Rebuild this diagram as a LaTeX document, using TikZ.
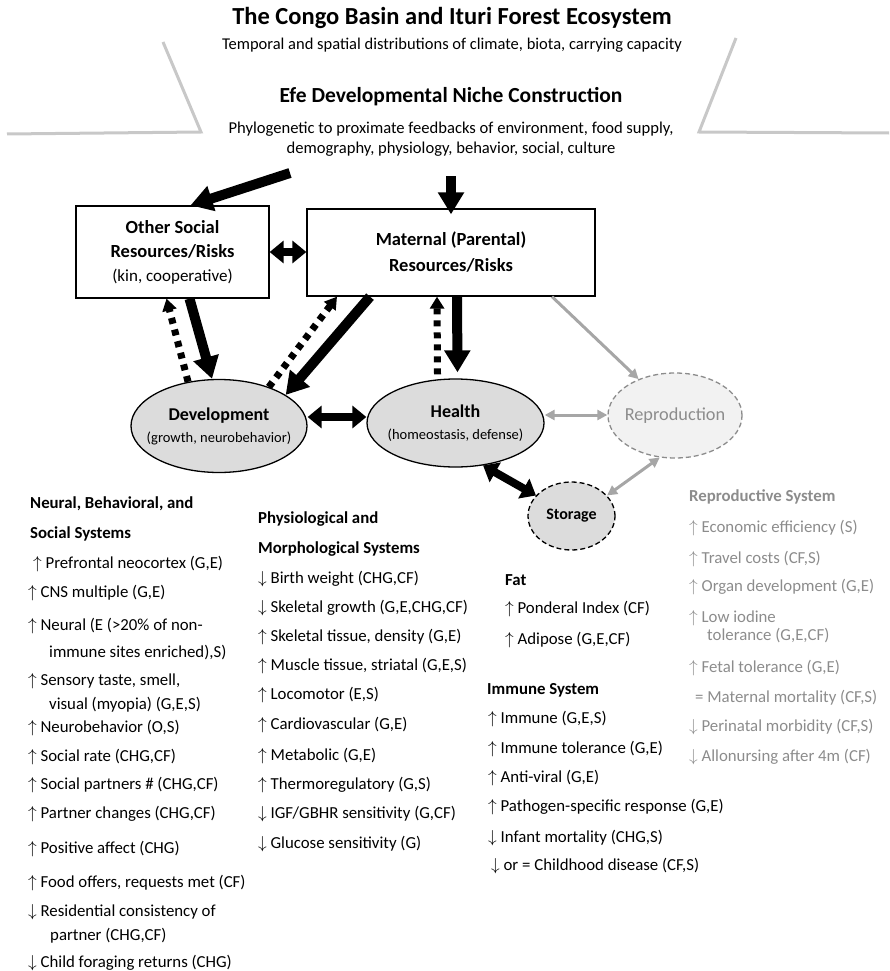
\documentclass[tikz,border=0pt]{standalone}
\usepackage{fontspec}
\setmainfont{Carlito}
\usepackage{xcolor}
\definecolor{efeFrame}{HTML}{C8C8C8}
\definecolor{efeFill}{HTML}{DCDCDC}
\definecolor{efePale}{HTML}{F2F2F2}
\definecolor{efeGray}{HTML}{8C8C8C}
\definecolor{efeArrow}{HTML}{A6A6A6}
\usepackage{tikz}
\usetikzlibrary{arrows.meta,shapes.geometric,positioning}
\newcommand{\incr}{$\uparrow$}
\newcommand{\decr}{$\downarrow$}
\tikzset{
  resbox/.style={
    rectangle,draw=black,line width=1.3pt,fill=white,
    align=center,inner sep=0pt,
    font=\fontsize{18.5}{24}\selectfont\bfseries
  },
  sysell/.style={
    ellipse,draw=black,line width=1.3pt,fill=efeFill,
    align=center,inner xsep=-15pt,inner ysep=0pt,
    font=\fontsize{14.5}{22}\selectfont
  },
  listtext/.style={anchor=base west,inner sep=0pt,font=\fontsize{16.8}{20}\selectfont},
  listhead/.style={listtext,font=\fontsize{16.8}{20}\selectfont\bfseries},
  bigarr/.style={-{Triangle[length=22pt,width=25pt]},line width=10pt},
  dotarr/.style={-{Triangle[length=12pt,width=14pt]},line width=7pt,dash pattern=on 6pt off 6pt},
  duoarr/.style={{Triangle[length=14pt,width=22pt]}-{Triangle[length=14pt,width=22pt]},line width=8pt},
  grayarr/.style={-{Triangle[length=10pt,width=10pt]},line width=3pt,color=efeArrow},
  grayduo/.style={{Triangle[length=10pt,width=10pt]}-{Triangle[length=10pt,width=10pt]},line width=3pt,color=efeArrow},
  frameline/.style={line width=3pt,color=efeFrame}
}

\begin{document}
\begin{tikzpicture}[x=1pt,y=-1pt]
\useasboundingbox (0,0) rectangle (889,971);

% ecosystem frame
\draw[frameline] (7,134) -- (201,132) -- (163,42);
\draw[frameline] (736,38) -- (699,132) -- (889,133);

\node[font=\fontsize{24.5}{28}\selectfont\bfseries] (basin) at (452,18) {The Congo Basin and Ituri Forest Ecosystem};
\node[font=\fontsize{16.5}{19}\selectfont] (basinsub) at (452,45) {Temporal and spatial distributions of climate, biota, carrying capacity};
\node[font=\fontsize{21.5}{24}\selectfont\bfseries] (niche) at (451,97) {Efe Developmental Niche Construction};
\node[font=\fontsize{16.6}{19.5}\selectfont,align=center] (nichesub) at (451,139) {Phylogenetic to proximate feedbacks of environment, food supply,\\demography, physiology, behavior, social, culture};
\coordinate (nicheL) at (290,173);
\coordinate (nicheM) at (451,176);

% resources
\node[resbox,minimum width=193pt,minimum height=92pt] (social) at (172.5,252) {Other Social\\Resources/Risks\\{\fontsize{17}{22}\selectfont\mdseries (kin, cooperative)}};
\node[resbox,minimum width=288pt,minimum height=87pt,font=\fontsize{18.5}{26}\selectfont\bfseries] (maternal) at (451,252.5) {Maternal (Parental)\\Resources/Risks};

% outcomes
\node[sysell,minimum width=176pt,minimum height=93pt] (dev) at (219,426) {{\fontsize{18}{22}\selectfont\bfseries Development}\\(growth, neurobehavior)};
\node[sysell,minimum width=177pt,minimum height=88pt] (health) at (455.5,423) {{\fontsize{18}{22}\selectfont\bfseries Health}\\(homeostasis, defense)};
\node[sysell,draw=efeGray,dash pattern=on 5pt off 3pt,fill=efePale,text=efeGray,minimum width=134pt,minimum height=85pt,font=\fontsize{18.3}{22}\selectfont] (repro) at (675,415.5) {Reproduction};
\node[sysell,dash pattern=on 5pt off 3pt,minimum width=87pt,minimum height=68pt,font=\fontsize{16}{20}\selectfont\bfseries] (storage) at (571.5,516) {Storage};

\draw[bigarr] (nicheL) -- ([xshift=18pt]social.north);
\draw[bigarr] (nicheM) -- ([yshift=-6pt]maternal.north);
\draw[duoarr] (social.east) -- (social.east -| maternal.west);
\draw[bigarr] ([xshift=17pt]social.south) -- ([xshift=-7pt]dev.north);
\draw[dotarr] (dev.125) -- ([xshift=-6pt]social.south);
\draw[bigarr] ([xshift=-81pt]maternal.south) -- (dev.25);
\draw[dotarr] (dev.38) -- ([xshift=-114pt]maternal.south);
\draw[bigarr] ([xshift=6pt]maternal.south) -- ([xshift=2pt,yshift=6pt]health.north);
\draw[dotarr] ([xshift=-18pt,yshift=4pt]health.north) -- ([xshift=-14pt]maternal.south);
\draw[duoarr] ([yshift=9pt]dev.east) -- ([yshift=9pt]dev.east -| health.west);
\draw[grayduo] ([yshift=8pt]health.east) -- ([yshift=8pt]health.east -| repro.west);
\draw[grayarr] ([xshift=101pt]maternal.south) -- (repro.135);
\draw[grayduo] (storage.30) -- (repro.250);
\draw[duoarr] (health.-57) -- (storage.150);

% neural, behavioral and social
\node[listhead] (neuhead) at (30,508) {Neural, Behavioral, and};
\node[listhead] (neuhead2) at (30,538) {Social Systems};
\foreach \x/\y/\t [count=\i] in {
  33/563/{\incr\ Prefrontal neocortex (G,E)},
  28/592/{\incr\ CNS multiple (G,E)},
  28/625/{\incr\ Neural (E (>20\% of non-},
  49/652/{immune sites enriched),S)},
  28/680/{\incr\ Sensory taste, smell,},
  49/704/{visual (myopia) (G,E,S)},
  28/727/{\incr\ Neurobehavior (O,S)},
  28/756/{\incr\ Social rate (CHG,CF)},
  28/784/{\incr\ Social partners \# (CHG,CF)},
  28/813/{\incr\ Partner changes (CHG,CF)},
  28/848/{\incr\ Positive affect (CHG)},
  28/882/{\incr\ Food offers, requests met (CF)},
  28/911/{\decr\ Residential consistency of},
  50/935/{partner (CHG,CF)},
  28/962/{\decr\ Child foraging returns (CHG)}}
  \node[listtext] (neu\i) at (\x,\y+5) {\t};

% physiological and morphological
\node[listhead] (phyhead) at (258,523) {Physiological and};
\node[listhead] (phyhead2) at (258,553) {Morphological Systems};
\foreach \y/\t [count=\i] in {
  578/{\decr\ Birth weight (CHG,CF)},
  607/{\decr\ Skeletal growth (G,E,CHG,CF)},
  636/{\incr\ Skeletal tissue, density (G,E)},
  665/{\incr\ Muscle tissue, striatal (G,E,S)},
  694/{\incr\ Locomotor (E,S)},
  724/{\incr\ Cardiovascular (G,E)},
  755/{\incr\ Metabolic (G,E)},
  784/{\incr\ Thermoregulatory (G,S)},
  813/{\decr\ IGF/GBHR sensitivity (G,CF)},
  843/{\decr\ Glucose sensitivity (G)}}
  \node[listtext] (phy\i) at (258,\y+5) {\t};

% fat
\node[listhead] (fathead) at (505,585) {Fat};
\node[listtext] (fat1) at (505,613) {\incr\ Ponderal Index (CF)};
\node[listtext] (fat2) at (505,644) {\incr\ Adipose (G,E,CF)};

% immune
\node[listhead] (immhead) at (487,694) {Immune System};
\foreach \x/\y/\t [count=\i] in {
  488/718/{\incr\ Immune (G,E,S)},
  488/748/{\incr\ Immune tolerance (G,E)},
  488/777/{\incr\ Anti-viral (G,E)},
  488/806/{\incr\ Pathogen-specific response (G,E)},
  488/837/{\decr\ Infant mortality (CHG,S)},
  491/865/{\decr\ or = Childhood disease (CF,S)}}
  \node[listtext] (imm\i) at (\x,\y+5) {\t};

% reproductive
\node[listhead,text=efeGray] (rephead) at (689,501) {Reproductive System};
\foreach \x/\y/\t [count=\i] in {
  689/527/{\incr\ Economic efficiency (S)},
  689/558/{\incr\ Travel costs (CF,S)},
  689/586/{\incr\ Organ development (G,E)},
  689/617/{\incr\ Low iodine},
  707/635/{tolerance (G,E,CF)},
  689/667/{\incr\ Fetal tolerance (G,E)},
  695/697/{= Maternal mortality (CF,S)},
  689/726/{\decr\ Perinatal morbidity (CF,S)},
  689/756/{\decr\ Allonursing after 4m (CF)}}
  \node[listtext,text=efeGray] (rep\i) at (\x,\y+5) {\t};

\end{tikzpicture}
\end{document}
